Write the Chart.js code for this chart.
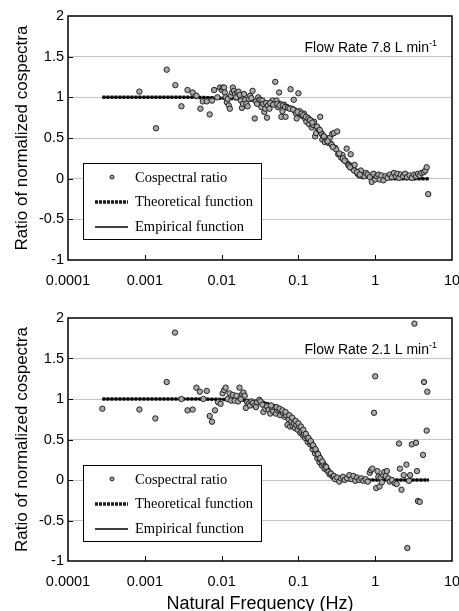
<!DOCTYPE html>
<html>
<head>
<meta charset="utf-8">
<script src="https://cdn.jsdelivr.net/npm/chart.js@4/dist/chart.umd.min.js"></script>
<style>
  body { margin: 0; background: #fff; }
  canvas { position: absolute; left: 0; }
  #topChart { top: 0; }
  #bottomChart { top: 300px; }
</style>
</head>
<body>
<canvas id="topChart" width="459" height="300"></canvas>
<canvas id="bottomChart" width="459" height="311"></canvas>
<script>
var xTickValues = [0.0001, 0.001, 0.01, 0.1, 1, 10];
var xTickLabels = ['0.0001', '0.001', '0.01', '0.1', '1', '10'];
var yTickLabels = ['-1', '-0.5', '0', '0.5', '1', '1.5', '2'];
var legendLabels = ['Cospectral ratio', 'Theoretical function', 'Empirical function'];
var flowRates = ['7.8', '2.1'];

// top panel, 7.8 L/min
var freqTop = [
  0.00085, 0.0014, 0.00193, 0.0025, 0.003, 0.0036, 0.0042, 0.0047, 0.0053, 0.0057,
  0.0064, 0.007, 0.0075, 0.008, 0.0088, 0.0095, 0.0101, 0.0104, 0.0108, 0.011,
  0.0113, 0.0117, 0.012, 0.0124, 0.0128, 0.0132, 0.0137, 0.014, 0.0145, 0.015,
  0.0155, 0.016, 0.0166, 0.0172, 0.0178, 0.0184, 0.019, 0.0196, 0.0203, 0.021,
  0.0218, 0.0226, 0.0235, 0.0244, 0.0253, 0.027, 0.028, 0.029, 0.03, 0.031,
  0.032, 0.033, 0.034, 0.035, 0.036, 0.037, 0.038, 0.039, 0.04, 0.042,
  0.044, 0.046, 0.048, 0.05, 0.052, 0.054, 0.056, 0.058, 0.06, 0.062,
  0.065, 0.068, 0.071, 0.075, 0.079, 0.083, 0.087, 0.09, 0.093, 0.095,
  0.1, 0.104, 0.108, 0.113, 0.118, 0.122, 0.127, 0.132, 0.138, 0.144,
  0.149, 0.155, 0.16, 0.165, 0.17, 0.178, 0.185, 0.192, 0.2, 0.205,
  0.21, 0.22, 0.228, 0.235, 0.245, 0.255, 0.265, 0.275, 0.29, 0.3,
  0.31, 0.32, 0.33, 0.345, 0.36, 0.375, 0.39, 0.41, 0.425, 0.44,
  0.46, 0.48, 0.5, 0.52, 0.54, 0.56, 0.59, 0.62, 0.65, 0.68,
  0.72, 0.76, 0.8, 0.85, 0.9, 0.95, 1.0, 1.05, 1.1, 1.15,
  1.2, 1.28, 1.36, 1.45, 1.55, 1.65, 1.75, 1.85, 1.95, 2.05,
  2.15, 2.3, 2.45, 2.6, 2.8, 3.0, 3.2, 3.4, 3.6, 3.8,
  4.0, 4.3, 4.5, 4.68, 4.9,
  0.043, 0.047, 0.053, 0.057, 0.063, 0.067, 0.073, 0.077, 0.085, 0.097,
  0.11, 0.116, 0.125, 0.135, 0.142, 0.152, 0.175, 0.19, 0.215, 0.24,
  0.27, 0.28, 0.34, 0.38, 0.4, 0.45, 0.47, 0.53, 0.58, 0.63
];
var ratioTop = [
  1.07, 0.62, 1.34, 1.15, 0.89, 1.09, 1.06, 1.02, 0.86, 0.95,
  0.95, 0.79, 0.96, 1.09, 1.0, 1.12, 1.09, 1.12, 1.12, 1.06,
  1.0, 0.94, 0.98, 0.9, 0.86, 1.02, 1.06, 1.12, 1.08, 1.04,
  1.0, 1.06, 1.07, 1.03, 0.96, 0.87, 0.92, 1.04, 0.97, 0.92,
  0.89, 0.98, 1.02, 0.99, 1.08, 0.74, 0.95, 0.92, 1.0, 0.97,
  0.97, 0.88, 0.96, 0.92, 0.82, 0.86, 0.93, 0.75, 0.9, 0.86,
  0.94, 0.96, 0.92, 1.19, 0.96, 0.88, 1.06, 0.92, 0.76, 0.83,
  0.91, 0.76, 0.88, 0.87, 1.1, 0.86, 0.97, 0.84, 0.8, 0.74,
  1.05, 0.83, 0.79, 0.77, 0.8, 0.74, 0.7, 0.75, 0.67, 0.72,
  0.63, 0.66, 0.7, 0.52, 0.56, 0.62, 0.6, 0.76, 0.55, 0.48,
  0.52, 0.45, 0.5, 0.47, 0.44, 0.5, 0.43, 0.55, 0.56, 0.38,
  0.36, 0.58, 0.3, 0.3, 0.26, 0.29, 0.23, 0.22, 0.37, 0.18,
  0.17, 0.3, 0.13, 0.12, 0.17, 0.09, 0.06, 0.04, 0.1, 0.03,
  0.03, 0.07, 0.05, 0.02, -0.04, 0.06, -0.01, 0.03, 0.05, -0.01,
  0.04, -0.02, 0.03, 0.01, 0.05, 0.02, 0.07, 0.03, 0.06, 0.01,
  0.05, 0.03, 0.06, 0.02, 0.04, 0.01, 0.05, 0.03, 0.06, 0.04,
  0.07, 0.08, 0.1, 0.14, -0.19,
  0.93, 0.91, 0.92, 0.9, 0.9, 0.88, 0.87, 0.86, 0.85, 0.82,
  0.8, 0.78, 0.76, 0.74, 0.72, 0.69, 0.64, 0.6, 0.52, 0.46,
  0.42, 0.39, 0.31, 0.25, 0.22, 0.16, 0.14, 0.1, 0.08, 0.05
];
var curveFreqTop = [0.00028, 0.0005, 0.001, 0.002, 0.004, 0.007, 0.01, 0.015, 0.02, 0.03, 0.04, 0.05, 0.06, 0.08, 0.1, 0.12, 0.15, 0.18, 0.2, 0.23, 0.26, 0.3, 0.35, 0.4, 0.47, 0.55, 0.65, 0.8, 1, 1.5, 2, 3, 5];
var theoryTop = [1, 1, 1, 1, 1, 0.995, 0.99, 0.983, 0.975, 0.955, 0.935, 0.915, 0.895, 0.85, 0.8, 0.76, 0.7, 0.62, 0.58, 0.51, 0.45, 0.37, 0.29, 0.22, 0.14, 0.09, 0.05, 0.02, 0.01, 0, 0, 0, 0];
var empiricalTop = [1, 1, 1, 1, 1, 0.997, 0.993, 0.986, 0.978, 0.96, 0.94, 0.92, 0.9, 0.855, 0.81, 0.765, 0.7, 0.625, 0.58, 0.515, 0.45, 0.375, 0.295, 0.225, 0.15, 0.095, 0.055, 0.025, 0.01, 0.002, 0, 0, 0];

// bottom panel, 2.1 L/min
var freqBottom = [
  0.00028, 0.00085, 0.00137, 0.00193, 0.00247, 0.003, 0.0036, 0.0042, 0.0047, 0.0052,
  0.0058, 0.0064, 0.007, 0.0075, 0.0082, 0.009, 0.0097, 0.0103, 0.0108, 0.0113,
  0.012, 0.0127, 0.0133, 0.014, 0.0148, 0.0156, 0.0164, 0.0171, 0.0178, 0.0185,
  0.0193, 0.02, 0.0207, 0.0215, 0.0225, 0.0235, 0.0245, 0.0255, 0.027, 0.028,
  0.029, 0.031, 0.032, 0.034, 0.035, 0.037, 0.039, 0.041, 0.043, 0.045,
  0.047, 0.049, 0.051, 0.053, 0.055, 0.058, 0.06, 0.063, 0.066, 0.069,
  0.072, 0.075, 0.078, 0.081, 0.084, 0.087, 0.09, 0.094, 0.098, 0.102,
  0.106, 0.11, 0.114, 0.118, 0.122, 0.127, 0.132, 0.137, 0.142, 0.147,
  0.153, 0.158, 0.164, 0.17, 0.176, 0.182, 0.188, 0.195, 0.202, 0.21,
  0.218, 0.226, 0.235, 0.245, 0.255, 0.265, 0.28, 0.29, 0.3, 0.32,
  0.34, 0.36, 0.38, 0.4, 0.43, 0.46, 0.49, 0.52, 0.55, 0.58,
  0.62, 0.66, 0.7, 0.75, 0.8, 0.85, 0.88, 0.92, 0.965, 1.0,
  1.03, 1.07, 1.1, 1.14, 1.18, 1.22, 1.27, 1.32, 1.37, 1.42,
  1.48, 1.55, 1.65, 1.8, 1.9, 2.04, 2.1, 2.2, 2.35, 2.55,
  2.62, 2.75, 2.85, 3.0, 3.24, 3.4, 3.5, 3.6, 3.8, 4.2,
  4.32, 4.68, 4.77,
  0.044, 0.052, 0.057, 0.062, 0.068, 0.076, 0.083, 0.092, 0.1, 0.108,
  0.116, 0.125, 0.135, 0.145, 0.155, 0.167, 0.18, 0.192, 0.205, 0.23
];
var ratioBottom = [
  0.88, 0.87, 0.76, 1.21, 1.82, 1.0, 0.86, 0.87, 1.14, 1.09,
  1.0, 1.1, 0.79, 0.72, 0.86, 0.96, 0.94, 1.07, 1.11, 1.14,
  1.0, 1.07, 0.98, 1.05, 0.98, 1.04, 0.97, 1.14, 1.0, 1.06,
  1.08, 1.04, 0.89, 0.96, 0.94, 0.92, 0.97, 0.95, 0.92, 0.9,
  0.96, 0.99, 0.97, 0.93, 0.84, 0.88, 0.91, 0.87, 0.82, 0.89,
  0.85, 0.9, 0.82, 0.86, 0.88, 0.8, 0.85, 0.83, 0.78, 0.8,
  0.68, 0.75, 0.66, 0.72, 0.67, 0.7, 0.64, 0.68, 0.62, 0.66,
  0.58, 0.6, 0.55, 0.57, 0.52, 0.54, 0.47, 0.5, 0.44, 0.46,
  0.38, 0.41, 0.33, 0.36, 0.27, 0.3, 0.22, 0.25, 0.18, 0.2,
  0.14, 0.17, 0.12, 0.1, 0.07, 0.08, 0.04, 0.05, 0.01, 0.03,
  -0.02, 0.02, 0.04, 0.0, 0.02, 0.06, 0.01, 0.05, -0.01, 0.03,
  0.0, 0.02, -0.01, 0.01, -0.02, 0.09, 0.12, 0.14, 0.83, 1.28,
  -0.1, 0.11, 0.04, -0.08, 0.03, -0.03, 0.06, 0.1, 0.05, 0.11,
  0.02, -0.02, 0.0, -0.04, -0.05, 0.45, 0.14, -0.12, 0.06, 0.19,
  -0.84, -0.01, 0.06, 0.44, 1.93, 0.46, 0.11, -0.26, -0.27, 0.31,
  1.21, 0.61, 1.09,
  0.92, 0.9, 0.88, 0.86, 0.84, 0.8, 0.77, 0.73, 0.7, 0.66,
  0.62, 0.57, 0.52, 0.48, 0.43, 0.38, 0.32, 0.27, 0.23, 0.16
];
var curveFreqBottom = [0.00028, 0.0005, 0.001, 0.002, 0.004, 0.007, 0.01, 0.015, 0.02, 0.03, 0.04, 0.05, 0.06, 0.07, 0.08, 0.1, 0.12, 0.14, 0.16, 0.18, 0.2, 0.23, 0.26, 0.3, 0.35, 0.4, 0.5, 0.7, 1, 2, 3, 5];
var theoryBottom = [1, 1, 1, 1, 1, 0.998, 0.995, 0.99, 0.985, 0.97, 0.94, 0.91, 0.87, 0.83, 0.79, 0.7, 0.6, 0.5, 0.41, 0.33, 0.26, 0.17, 0.11, 0.05, 0.02, 0.01, 0, 0, 0, 0, 0, 0];
var empiricalBottom = [1, 1, 1, 1, 1, 0.998, 0.996, 0.992, 0.987, 0.972, 0.945, 0.915, 0.878, 0.84, 0.8, 0.71, 0.61, 0.51, 0.42, 0.34, 0.27, 0.18, 0.115, 0.055, 0.025, 0.012, 0.003, 0, 0, 0, 0, 0];

var sansFont = "'Liberation Sans', Arial, sans-serif";
var serifFont = "'Liberation Serif', 'Times New Roman', serif";

function toPoints(xs, ys) {
  return xs.map(function (x, i) { return { x: x, y: ys[i] }; });
}

// frame, inward ticks, legend box and the flow rate note
var panelPlugin = {
  id: 'panel',
  afterDraw: function (chart, args, opts) {
    var ctx = chart.ctx;
    var area = chart.chartArea;
    var xs = chart.scales.x;
    var ys = chart.scales.y;
    ctx.save();

    ctx.strokeStyle = '#000';
    ctx.lineWidth = 1;
    for (var i = 1; i < yTickLabels.length - 1; i++) {
      var py = Math.round(ys.getPixelForValue(parseFloat(yTickLabels[i]))) + 0.5;
      ctx.beginPath();
      ctx.moveTo(area.left, py);
      ctx.lineTo(area.left + 5, py);
      ctx.stroke();
    }
    for (var j = 1; j < xTickValues.length - 1; j++) {
      var px = Math.round(xs.getPixelForValue(xTickValues[j])) + 0.5;
      ctx.beginPath();
      ctx.moveTo(px, area.bottom);
      ctx.lineTo(px, area.bottom - 5);
      ctx.stroke();
    }

    ctx.lineWidth = 1.5;
    ctx.strokeRect(area.left, area.top, area.right - area.left, area.bottom - area.top);

    // legend
    var lx = area.left + 15;
    var ly = area.top + 147;
    ctx.fillStyle = '#fff';
    ctx.fillRect(lx, ly, 178, 76);
    ctx.lineWidth = 1;
    ctx.strokeStyle = '#000';
    ctx.strokeRect(lx + 0.5, ly + 0.5, 178, 76);

    var rows = [15, 39, 64];
    ctx.font = '14.5px ' + serifFont;
    ctx.textBaseline = 'middle';
    ctx.textAlign = 'left';
    for (var k = 0; k < 3; k++) {
      var ry = ly + rows[k];
      if (k === 0) {
        ctx.beginPath();
        ctx.arc(lx + 29, ry - 1, 2, 0, Math.PI * 2);
        ctx.fillStyle = '#aaa';
        ctx.fill();
        ctx.lineWidth = 1;
        ctx.strokeStyle = '#222';
        ctx.stroke();
      } else if (k === 1) {
        ctx.lineWidth = 3.5;
        ctx.strokeStyle = '#1a1a1a';
        ctx.setLineDash([3, 1]);
        ctx.beginPath();
        ctx.moveTo(lx + 12, ry);
        ctx.lineTo(lx + 45, ry);
        ctx.stroke();
        ctx.setLineDash([]);
      } else {
        ctx.lineWidth = 1.5;
        ctx.strokeStyle = '#000';
        ctx.beginPath();
        ctx.moveTo(lx + 12, ry);
        ctx.lineTo(lx + 45, ry);
        ctx.stroke();
      }
      ctx.fillStyle = '#000';
      ctx.fillText(legendLabels[k], lx + 52, ry);
    }

    // flow rate label, right aligned, with superscript
    var main = 'Flow Rate ' + opts.flow + ' L min';
    var sup = '-1';
    ctx.font = '9px ' + sansFont;
    var supW = ctx.measureText(sup).width;
    var endX = area.right - 15;
    var base = area.top + 35.5;
    ctx.textBaseline = 'alphabetic';
    ctx.textAlign = 'right';
    ctx.fillText(sup, endX, base - 6);
    ctx.font = '14px ' + sansFont;
    ctx.fillText(main, endX - supW, base);

    ctx.restore();
  }
};

function makeChart(id, freqs, ratios, curveFreq, theory, empirical, flow, showXTitle, padTop, xHeight) {
  var ctx = document.getElementById(id).getContext('2d');
  return new Chart(ctx, {
    type: 'scatter',
    data: {
      datasets: [{
        label: legendLabels[0],
        data: toPoints(freqs, ratios),
        pointRadius: 2.7,
        pointBorderWidth: 1,
        pointBackgroundColor: '#aaa',
        pointBorderColor: '#222',
        showLine: false,
        order: 1
      }, {
        label: legendLabels[1],
        data: toPoints(curveFreq, theory),
        showLine: true,
        pointRadius: 0,
        borderColor: '#1a1a1a',
        borderWidth: 3.5,
        borderDash: [3, 1],
        cubicInterpolationMode: 'monotone',
        order: 3
      }, {
        label: legendLabels[2],
        data: toPoints(curveFreq, empirical),
        showLine: true,
        pointRadius: 0,
        borderColor: '#000',
        borderWidth: 1.5,
        cubicInterpolationMode: 'monotone',
        order: 2
      }]
    },
    options: {
      responsive: false,
      animation: false,
      layout: { padding: { top: padTop, right: 7, left: 0, bottom: 0 } },
      plugins: {
        legend: { display: false },
        tooltip: { enabled: false },
        panel: { flow: flow }
      },
      scales: {
        x: {
          type: 'logarithmic',
          min: 0.0001,
          max: 10,
          afterBuildTicks: function (scale) {
            scale.ticks = xTickValues.map(function (v) { return { value: v }; });
          },
          ticks: {
            callback: function (value, index) { return xTickLabels[index]; },
            font: { family: sansFont, size: 14.5 },
            color: '#000',
            padding: 12,
            maxRotation: 0,
            autoSkip: false
          },
          grid: { display: false, drawTicks: false },
          border: { display: false },
          title: {
            display: showXTitle,
            text: 'Natural Frequency (Hz)',
            font: { family: sansFont, size: 18, lineHeight: 0.8 },
            color: '#000',
            padding: 0
          },
          afterFit: function (scale) {
            scale.height = xHeight;
            scale.paddingLeft = 0;
            scale.paddingRight = 0;
          }
        },
        y: {
          min: -1,
          max: 2,
          ticks: {
            stepSize: 0.5,
            callback: function (value) { return yTickLabels[Math.round((value + 1) * 2)]; },
            font: { family: sansFont, size: 14.5 },
            color: '#000',
            padding: 4
          },
          grid: {
            drawTicks: false,
            lineWidth: 1,
            color: function (c) {
              if (c.tick && (c.tick.value === -1 || c.tick.value === 2)) return 'rgba(0,0,0,0)';
              return '#c4c4c4';
            }
          },
          border: { display: false },
          title: {
            display: true,
            text: 'Ratio of normalized cospectra',
            font: { family: sansFont, size: 17 },
            color: '#000',
            padding: { top: 12.5, bottom: 0 }
          },
          afterFit: function (scale) {
            scale.width = 68;
            scale.paddingTop = 0;
            scale.paddingBottom = 0;
          }
        }
      }
    },
    plugins: [panelPlugin]
  });
}

makeChart('topChart', freqTop, ratioTop, curveFreqTop, theoryTop, empiricalTop, flowRates[0], false, 16, 40);
makeChart('bottomChart', freqBottom, ratioBottom, curveFreqBottom, theoryBottom, empiricalBottom, flowRates[1], true, 18, 50);
</script>
</body>
</html>
